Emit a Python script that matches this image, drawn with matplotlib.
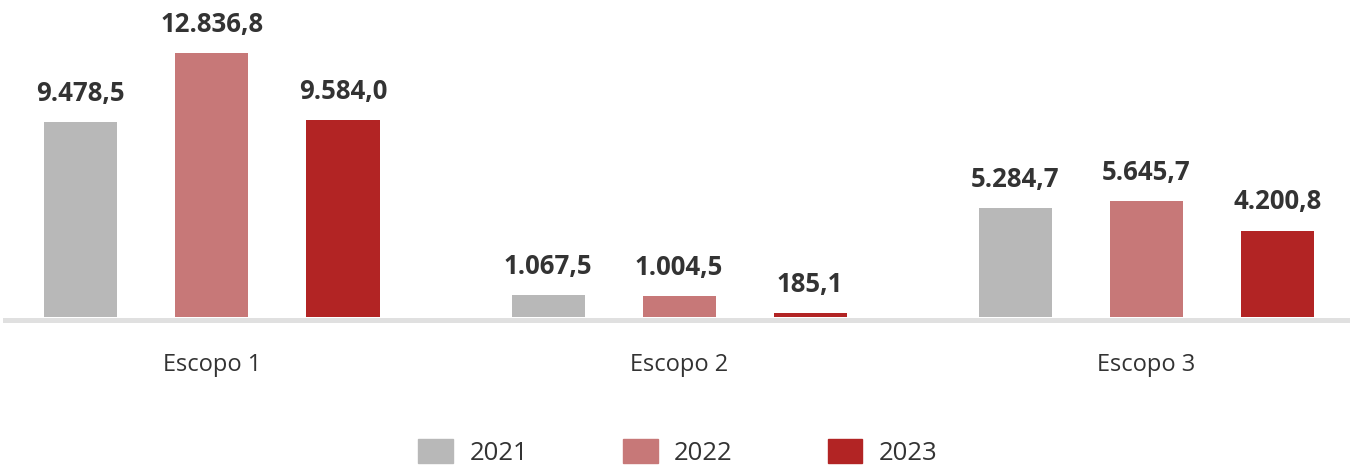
import numpy as np
import matplotlib.pyplot as plt
from matplotlib.patches import Patch

# Emissions by scope and year
categories = ["Escopo 1", "Escopo 2", "Escopo 3"]
years = ["2021", "2022", "2023"]
values_2021 = [9478.5, 1067.5, 5284.7]
values_2022 = [12836.8, 1004.5, 5645.7]
values_2023 = [9584.0, 185.1, 4200.8]

colors = ["#b8b8b8", "#c77878", "#b22424"]
text_color = "#333333"

plt.rcParams['font.family'] = ['Open Sans', 'DejaVu Sans']

fig = plt.figure(figsize=(13.5, 4.68), dpi=100)
ax = fig.add_axes([5 / 1350, 151 / 468, 1345 / 1350, 317 / 468])

x = np.arange(len(categories))
offset = 0.2805
width = 0.1563
series = [values_2021, values_2022, values_2023]

for i, vals in enumerate(series):
    bars = ax.bar(x + (i - 1) * offset, vals, width, color=colors[i], zorder=2)
    for b, v in zip(bars, vals):
        label = f"{v:,.1f}".replace(",", "X").replace(".", ",").replace("X", ".")
        ax.annotate(label, (b.get_x() + b.get_width() / 2, v),
                    xytext=(0, 11), textcoords="offset points",
                    ha="center", va="bottom", fontsize=18.5,
                    fontweight="bold", color=text_color)

ax.set_xlim(-0.443, 2.436)
ax.set_ylim(0, 12836.8 * 317 / 264)

for s in ["top", "right", "left"]:
    ax.spines[s].set_visible(False)
ax.spines["bottom"].set_color("#e0e0e0")
ax.spines["bottom"].set_linewidth(3.6)
ax.spines["bottom"].set_position(("outward", 1.8))
ax.spines["bottom"].set_zorder(1)

ax.set_yticks([])
ax.set_xticks(x)
ax.set_xticklabels(categories, fontsize=17, color=text_color)
ax.tick_params(axis="x", length=0, pad=24)

handles = [Patch(color=c) for c in colors]
fig.legend(handles, years, loc="center", bbox_to_anchor=(0.502, 0.034),
           ncol=3, frameon=False, fontsize=18.5, labelcolor=text_color,
           handlelength=1.36, handleheight=1.1, handletextpad=0.62,
           columnspacing=3.7)

fig.savefig("out.png", dpi=100)
